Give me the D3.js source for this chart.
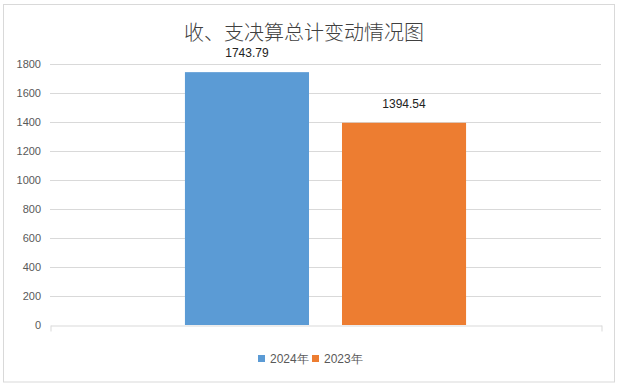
<!DOCTYPE html>
<html><head><meta charset="utf-8">
<script src="https://cdn.jsdelivr.net/npm/d3@7"></script>
<style>body{margin:0;background:#fff}svg{display:block}</style>
</head><body>
<script>
const title = "收、支决算总计变动情况图";
const categories = [""];
const seriesNames = ["2024年", "2023年"];
const seriesValues = [1743.79, 1394.54];
const seriesColors = ["#5B9BD5", "#ED7D31"];
const yTicks = [0, 200, 400, 600, 800, 1000, 1200, 1400, 1600, 1800];

(function () {
const W = 621, H = 388;
const svg = d3.select("body").append("svg").attr("width", W).attr("height", H);
const font = "'Liberation Sans', Arial, sans-serif";

svg.append("rect").attr("x", 3.5).attr("y", 4.5).attr("width", 611).attr("height", 377.5)
  .attr("fill", "#fff").attr("stroke", "#d9d9d9");

const pl = 50, pr = 601, pt = 64, pb = 325;
const y = d3.scaleLinear().domain([0, 1800]).range([pb, pt]);
const x0 = d3.scaleBand().domain(categories).range([pl, pr]).paddingInner(0).paddingOuter(0.48);
const x1 = d3.scaleBand().domain(seriesNames).range([0, x0.bandwidth()]).paddingInner(0.21).paddingOuter(0);

// gridlines
svg.append("g").selectAll("line").data(yTicks.filter(d => d > 0)).join("line")
  .attr("x1", pl).attr("x2", pr)
  .attr("y1", d => Math.round(y(d)) + 0.5).attr("y2", d => Math.round(y(d)) + 0.5)
  .attr("stroke", "#d9d9d9");

// y axis labels
const yAxis = d3.axisLeft(y).tickValues(yTicks).tickSize(0).tickPadding(9).tickFormat(d3.format("d"));
const ya = svg.append("g").attr("transform", `translate(${pl},0)`).call(yAxis);
ya.select(".domain").remove();
ya.selectAll("text").attr("font-family", font).attr("font-size", 11).attr("fill", "#595959");

// bars
const g = svg.append("g").attr("transform", `translate(${x0(categories[0])},0)`);
g.selectAll("rect").data(seriesValues).join("rect")
  .attr("x", (d, i) => x1(seriesNames[i]))
  .attr("y", d => y(d))
  .attr("width", x1.bandwidth())
  .attr("height", d => y(0) - y(d))
  .attr("fill", (d, i) => seriesColors[i]);
g.selectAll("text").data(seriesValues).join("text")
  .attr("x", (d, i) => x1(seriesNames[i]) + x1.bandwidth() / 2)
  .attr("y", d => y(d) - 15)
  .attr("text-anchor", "middle")
  .attr("font-family", font).attr("font-size", 12).attr("fill", "#222")
  .text(d => d.toFixed(2));

// x axis baseline with end ticks
const xAxis = d3.axisBottom(d3.scaleLinear().domain([0, 1]).range([pl, pr]))
  .tickValues([0, 1]).tickSizeInner(6).tickSizeOuter(0).tickFormat("");
const xa = svg.append("g").attr("transform", `translate(0.5,${pb + 0.5})`).call(xAxis);
xa.selectAll("path,line").attr("stroke", "#d9d9d9");

// title
svg.append("text").attr("x", 304).attr("y", 31).attr("dominant-baseline", "central")
  .attr("text-anchor", "middle")
  .attr("font-family", "'Noto Sans CJK SC', sans-serif").attr("font-size", 20)
  .attr("font-weight", 300).attr("fill", "#404040").text(title);

// legend
const legendItems = [{x: 258, tx: 270}, {x: 312, tx: 324}];
const lg = svg.append("g");
seriesNames.forEach((n, i) => {
  lg.append("rect").attr("x", legendItems[i].x).attr("y", 355).attr("width", 7).attr("height", 7)
    .attr("fill", seriesColors[i]);
  lg.append("text").attr("x", legendItems[i].tx).attr("y", 359).attr("dominant-baseline", "central")
    .attr("font-family", font).attr("font-size", 12).attr("fill", "#595959").text(n);
});
})();
</script>
</body></html>
